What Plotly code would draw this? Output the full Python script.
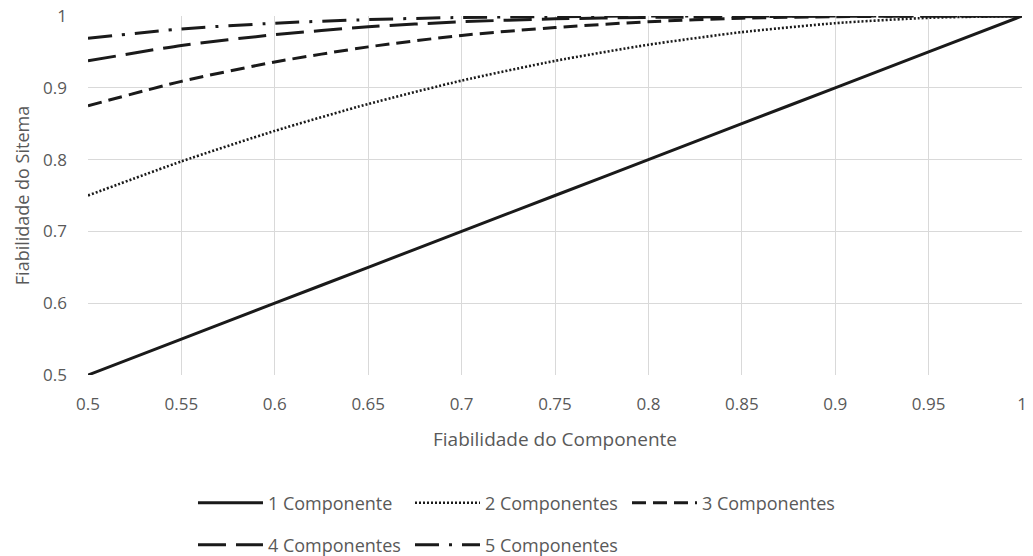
import plotly.graph_objects as go

x_vals = [0.5, 0.55, 0.6, 0.65, 0.7, 0.75, 0.8, 0.85, 0.9, 0.95, 1.0]
comp1 = [0.5, 0.55, 0.6, 0.65, 0.7, 0.75, 0.8, 0.85, 0.9, 0.95, 1.0]
comp2 = [0.75, 0.7975, 0.84, 0.8775, 0.91, 0.9375, 0.96, 0.9775, 0.99, 0.9975, 1.0]
comp3 = [0.875, 0.909, 0.936, 0.957, 0.973, 0.984, 0.992, 0.997, 0.999, 1.0, 1.0]
comp4 = [0.9375, 0.959, 0.974, 0.985, 0.992, 0.996, 0.998, 0.999, 1.0, 1.0, 1.0]
comp5 = [0.969, 0.982, 0.990, 0.995, 0.998, 0.999, 1.0, 1.0, 1.0, 1.0, 1.0]
names = ["1 Componente", "2 Componentes", "3 Componentes", "4 Componentes", "5 Componentes"]

series = [comp1, comp2, comp3, comp4, comp5]
dashes = ["solid", "2px,2px", "14px,7px", "28px,10px", "24px,10px,3px,10px"]
widths = [3, 2.6, 3, 3, 3]
legends = ["legend", "legend", "legend", "legend2", "legend2"]
color = "#1a1a1a"
font_fam = "Open Sans, Noto Sans, sans-serif"
txt = "#595959"

fig = go.Figure()
for ys, nm, ds, wd, lg in zip(series, names, dashes, widths, legends):
    fig.add_trace(go.Scatter(
        x=x_vals, y=ys, name=nm, mode="lines",
        line=dict(color=color, width=wd, dash=ds, shape="spline", smoothing=0.6),
        legend=lg,
    ))

leg_common = dict(orientation="h", xanchor="left", yanchor="middle",
                  font=dict(size=18, color=txt), itemwidth=65,
                  entrywidth=137, entrywidthmode="pixels", bgcolor="rgba(0,0,0,0)")

fig.update_layout(
    width=1033, height=556,
    margin=dict(l=88, r=11, t=16, b=181, autoexpand=False),
    plot_bgcolor="white", paper_bgcolor="white",
    font=dict(family=font_fam, size=17, color=txt),
    xaxis=dict(range=[0.5, 1.0], dtick=0.05, tick0=0.5, showgrid=True, gridcolor="#d9d9d9",
               zeroline=False, showline=False, ticks="", ticklabelstandoff=17,
               tickfont=dict(size=17, color=txt),
               title=dict(text="Fiabilidade do Componente", font=dict(size=19, color=txt), standoff=18)),
    yaxis=dict(range=[0.5, 1.0], dtick=0.1, tick0=0.5, showgrid=True, gridcolor="#d9d9d9",
               zeroline=False, showline=False, ticks="", ticklabelstandoff=20,
               tickfont=dict(size=17, color=txt),
               title=dict(text="Fiabilidade do Sitema", font=dict(size=18, color=txt), standoff=8)),
    legend=dict(x=0.1124, y=-0.3565, **leg_common),
    legend2=dict(x=0.1124, y=-0.4735, **leg_common),
    showlegend=True,
)

fig.write_html("out.html")
